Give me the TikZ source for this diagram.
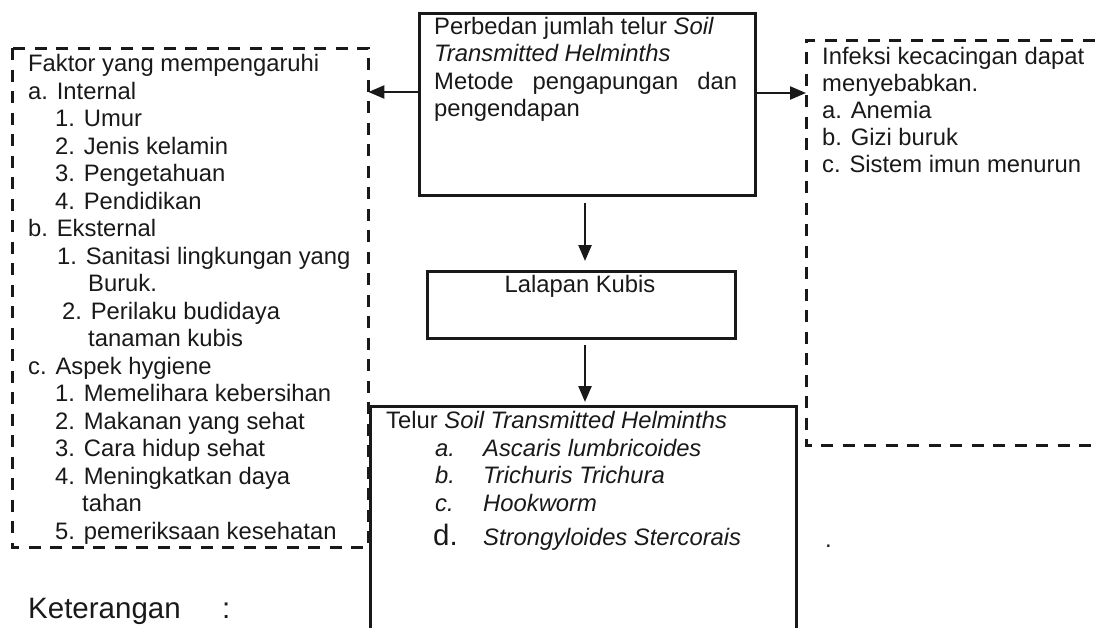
\documentclass[tikz,border=0pt]{standalone}
\usepackage{fontspec}
\setmainfont{Liberation Sans}
\usetikzlibrary{arrows.meta}
\begin{document}
\begin{tikzpicture}[x=1pt,y=-1pt,
  solidbox/.style={draw=black!90, line width=3pt, inner sep=0pt, anchor=north west},
  hollow/.style={inner sep=0pt, anchor=north west},
  solidline/.style={draw=black!90, line width=3pt},
  dashline/.style={draw=black!90, line width=3pt, dash pattern=on 12pt off 9.5pt},
  txt/.style={anchor=base west, inner sep=0pt, text=black!90, font=\fontsize{23.8}{27.5}\selectfont},
  bigtxt/.style={txt, font=\fontsize{29.5}{30}\selectfont},
  arr/.style={draw=black!90, line width=2.4pt, -{Triangle[length=16pt,width=13pt]}}]
\useasboundingbox (0,0) rectangle (1099,627);
\clip (0,0) rectangle (1099,627);
% boxes
\node[solidbox, minimum width=336pt, minimum height=182pt] (top) at (418,12) {};
\node[solidbox, minimum width=308pt, minimum height=67pt] (lal) at (426,270) {};
\node[hollow, minimum width=426pt, minimum height=240pt] (bot) at (370,406) {};
\draw[solidline] (bot.south west) -- (bot.north west) -- (bot.north east) -- (bot.south east);
\node[hollow, minimum width=356pt, minimum height=499pt] (leftbox) at (12,48) {};
\draw[dashline] (leftbox.north west) rectangle (leftbox.south east);
\node[hollow, minimum width=310pt, minimum height=405pt] (rightbox) at (806,40) {};
\draw[dashline] (rightbox.north east) -- (rightbox.north west) -- (rightbox.south west) -- (rightbox.south east);
% connectors
\coordinate (ya) at (0,92);
\coordinate (yb) at (0,93);
\coordinate (cx) at (585,0);
\draw[arr] (top.west |- ya) -- (leftbox.east |- ya);
\draw[arr] (top.east |- yb) -- (rightbox.west |- yb);
\draw[arr, shorten <=6pt, shorten >=9pt] (top.south -| cx) -- (lal.north -| cx);
\draw[arr, shorten <=5pt, shorten >=4pt] (lal.south -| cx) -- (bot.north -| cx);
% left box text
\foreach \dx/\t [count=\i from 0] in {
  28/Faktor yang mempengaruhi, 28/a. Internal, 55/1. Umur, 55/2. Jenis kelamin,
  55/3. Pengetahuan, 55/4. Pendidikan, 28/b. Eksternal, 57/1. Sanitasi lingkungan yang,
  88/Buruk., 62/2. Perilaku budidaya, 88/tanaman kubis, 28/c. Aspek hygiene,
  55/1. Memelihara kebersihan, 55/2. Makanan yang sehat, 55/3. Cara hidup sehat,
  55/4. Meningkatkan daya, 82/tahan, 55/5. pemeriksaan kesehatan}
  \node[txt] (L\i) at (\dx, {71.5+27.5*\i}) {\t};
% top box text
\node[txt] (T1) at (434,34) {Perbedan jumlah telur \textit{Soil}};
\node[txt] (T2) at (434,61.5) {\textit{Transmitted Helminths}};
\node[txt] (T3) at (434,89) {\hbox to 303pt{Metode\hfill pengapungan\hfill dan}};
\node[txt] (T4) at (434,116.5) {pengendapan};
% lalapan
\node[txt, anchor=base] (LK) at (580,292) {Lalapan Kubis};
% right box text
\foreach \t [count=\i from 0] in {Infeksi kecacingan dapat, menyebabkan., a. Anemia, b. Gizi buruk, c. Sistem imun menurun}
  \node[txt] (R\i) at (822, {64+27*\i}) {\t};
% bottom box text
\node[txt] (B0) at (386,428) {Telur \textit{Soil Transmitted Helminths}};
\node[txt] (Ba) at (435,456) {\textit{a.}};
\node[txt] (Ba2) at (483,456) {\textit{Ascaris lumbricoides}};
\node[txt] (Bb) at (435,483) {\textit{b.}};
\node[txt] (Bb2) at (483,483) {\textit{Trichuris Trichura}};
\node[txt] (Bc) at (435,511) {\textit{c.}};
\node[txt] (Bc2) at (483,511) {\textit{Hookworm}};
\node[bigtxt] (Bd) at (433,545) {d.};
\node[txt] (Bd2) at (483,545) {\textit{Strongyloides Stercorais}};
\node[txt] (dot) at (825,547) {.};
% keterangan
\node[bigtxt] (K) at (28,618) {Keterangan};
\node[bigtxt] (Kc) at (222,618) {:};
\end{tikzpicture}
\end{document}
